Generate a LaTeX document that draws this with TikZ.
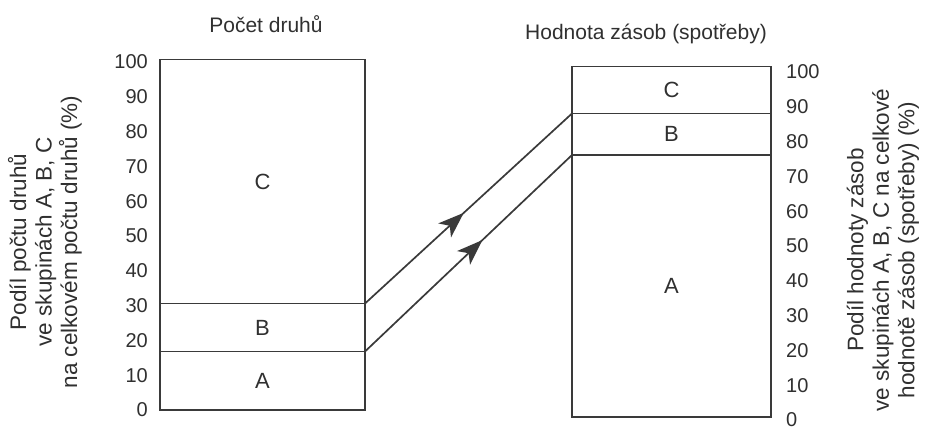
\documentclass[tikz,border=0pt]{standalone}
\usepackage{fontspec}
\setmainfont{Liberation Sans}
\usetikzlibrary{decorations.markings}
\definecolor{ink}{HTML}{3A3A3A}
\definecolor{txt}{HTML}{303030}
\begin{document}
\begin{tikzpicture}[x=1pt,y=-1pt,
  seg/.style={draw=ink,line width=1.8pt,inner sep=0pt,outer sep=0pt,anchor=north west,
    font=\fontsize{22}{26}\selectfont,text=txt},
  tick/.style={font=\fontsize{20}{24}\selectfont,text=txt,inner sep=0pt},
  ttl/.style={font=\fontsize{21}{25}\selectfont,text=txt,inner sep=0pt,anchor=base},
  axislbl/.style={font=\fontsize{22.5}{25.5}\selectfont,text=txt,inner sep=0pt,rotate=90,align=center},
  conn/.style={draw=ink,line width=1.7pt},
  flowmark/.style={postaction={decorate},decoration={markings,
    mark=at position #1 with {\fill[ink] (2,0) -- (-24,9.5) -- (-17,0) -- (-24,-9.5) -- cycle;}}}
]
\useasboundingbox[fill=white] (0,0) rectangle (927,430);

% titles
\node[ttl] (t1) at (266,33) {Počet druhů};
\node[ttl] (t2) at (646,40) {Hodnota zásob (spotřeby)};

% left column
\node[seg,minimum width=205,minimum height=244] (LC) at (160,59.5) {C};
\node[seg,minimum width=205,minimum height=48] (LB) at (160,303.5) {B};
\node[seg,minimum width=205,minimum height=58.5] (LA) at (160,351.5) {A};

% right column
\node[seg,minimum width=199,minimum height=47] (RC) at (572,66.5) {C};
\node[seg,minimum width=199,minimum height=41.5] (RB) at (572,113.5) {B};
\node[seg,minimum width=199,minimum height=262] (RA) at (572,155) {A};

% scales
\foreach \i in {0,...,10} {
  \node[tick,anchor=east] (lt\i) at (148,{410-34.8*\i}) {\the\numexpr\i*10\relax};
  \node[tick,anchor=west] (rt\i) at (786,{420-34.8*\i}) {\the\numexpr\i*10\relax};
}

% axis captions
\node[axislbl] (ly) at (45,242) {Podíl počtu druhů\\ve skupinách A, B, C\\na celkovém počtu druhů (\%)};
\node[axislbl] (ry) at (883,250) {Podíl hodnoty zásob\\ve skupinách A, B, C na celkové\\hodnotě zásob (spotřeby) (\%)};

% connectors
\draw[conn,flowmark=0.47] (LC.south east) -- (RC.south west);
\draw[conn,flowmark=0.56] (LB.south east) -- (RB.south west);
\end{tikzpicture}
\end{document}
